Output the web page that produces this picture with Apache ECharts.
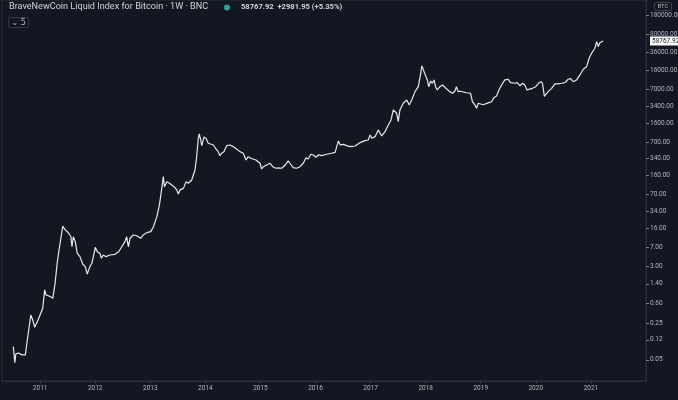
<!DOCTYPE html>
<html>
<head>
<meta charset="utf-8">
<script src="https://cdn.jsdelivr.net/npm/echarts@6/dist/echarts.min.js"></script>
<style>
  html, body { margin: 0; padding: 0; background: #131722; }
  #chart { width: 678px; height: 400px; }
</style>
</head>
<body>
<div id="chart"></div>
<script>
// weekly BLX close (USD, log scale)
const dates = [
  '2010-07-07', '2010-07-17', '2010-07-24', '2010-08-10', '2010-09-02', '2010-09-25', '2010-10-05', '2010-10-18',
  '2010-10-31', '2010-11-13', '2010-11-26', '2010-12-18', '2011-01-09', '2011-01-18', '2011-01-31', '2011-02-09',
  '2011-03-08', '2011-03-26', '2011-04-05', '2011-04-10', '2011-04-25', '2011-05-08', '2011-05-15', '2011-05-31',
  '2011-06-15', '2011-07-07', '2011-07-18', '2011-07-24', '2011-07-31', '2011-08-09', '2011-08-22', '2011-09-04',
  '2011-09-22', '2011-10-10', '2011-10-27', '2011-11-09', '2011-11-27', '2011-12-10', '2012-01-02', '2012-01-15',
  '2012-02-02', '2012-02-11', '2012-02-24', '2012-03-13', '2012-04-08', '2012-05-11', '2012-06-05', '2012-06-25',
  '2012-07-17', '2012-07-28', '2012-08-08', '2012-08-19', '2012-09-10', '2012-10-03', '2012-10-29', '2012-11-15',
  '2012-12-08', '2013-01-04', '2013-01-21', '2013-02-13', '2013-03-02', '2013-03-13', '2013-03-28', '2013-04-04',
  '2013-04-20', '2013-05-07', '2013-05-20', '2013-06-07', '2013-06-25', '2013-07-05', '2013-07-17', '2013-08-08',
  '2013-08-26', '2013-09-10', '2013-10-02', '2013-10-24', '2013-11-04', '2013-11-15', '2013-11-21', '2013-12-01',
  '2013-12-08', '2013-12-22', '2014-01-05', '2014-01-20', '2014-01-31', '2014-02-23', '2014-03-12', '2014-03-27',
  '2014-04-08', '2014-04-19', '2014-05-04', '2014-05-22', '2014-06-13', '2014-07-05', '2014-07-27', '2014-08-18',
  '2014-09-09', '2014-09-27', '2014-10-12', '2014-10-28', '2014-11-10', '2014-12-02', '2014-12-29', '2015-01-09',
  '2015-01-20', '2015-02-11', '2015-03-05', '2015-03-23', '2015-04-14', '2015-04-29', '2015-05-21', '2015-06-12',
  '2015-07-04', '2015-07-20', '2015-08-06', '2015-08-29', '2015-09-20', '2015-10-12', '2015-10-30', '2015-11-14',
  '2015-12-02', '2015-12-17', '2016-01-04', '2016-01-19', '2016-02-11', '2016-03-15', '2016-04-17', '2016-05-10',
  '2016-05-21', '2016-06-01', '2016-06-13', '2016-07-04', '2016-07-26', '2016-08-17', '2016-09-19', '2016-10-22',
  '2016-11-24', '2016-12-16', '2016-12-28', '2017-01-08', '2017-01-30', '2017-02-21', '2017-03-15', '2017-04-06',
  '2017-04-28', '2017-05-16', '2017-05-31', '2017-06-23', '2017-07-03', '2017-07-14', '2017-08-05', '2017-08-28',
  '2017-09-14', '2017-09-30', '2017-10-22', '2017-11-13', '2017-11-29', '2017-12-07', '2017-12-21', '2018-01-03',
  '2018-01-12', '2018-01-21', '2018-02-03', '2018-02-14', '2018-02-25', '2018-03-07', '2018-03-19', '2018-04-05',
  '2018-04-23', '2018-05-15', '2018-06-10', '2018-06-28', '2018-07-13', '2018-07-24', '2018-08-04', '2018-08-20',
  '2018-09-02', '2018-09-28', '2018-10-25', '2018-11-07', '2018-11-23', '2018-12-04', '2018-12-15', '2018-12-26',
  '2019-01-17', '2019-02-19', '2019-03-14', '2019-03-29', '2019-04-16', '2019-05-03', '2019-05-19', '2019-06-10',
  '2019-06-21', '2019-07-02', '2019-07-18', '2019-07-31', '2019-08-16', '2019-08-31', '2019-09-17', '2019-10-05',
  '2019-10-20', '2019-11-04', '2019-11-17', '2019-12-10', '2020-01-01', '2020-01-23', '2020-02-08', '2020-02-15',
  '2020-02-27', '2020-03-11', '2020-03-23', '2020-04-15', '2020-05-07', '2020-05-29', '2020-06-20', '2020-07-12',
  '2020-08-03', '2020-08-19', '2020-09-05', '2020-09-28', '2020-10-20', '2020-11-11', '2020-12-03', '2020-12-20',
  '2021-01-05', '2021-01-16', '2021-01-27', '2021-02-08', '2021-02-18', '2021-03-01', '2021-03-23'
];
const prices = [
  0.089, 0.044, 0.065, 0.067, 0.062, 0.062, 0.103, 0.11,
  0.356, 0.286, 0.208, 0.286, 0.41, 0.48, 1.07, 0.86,
  0.80, 0.74, 0.72, 1.43, 3.69, 6.65, 7.2, 17.5,
  15.1, 13.1, 12.6, 11.0, 7.1, 11.0, 8.9, 5.3,
  4.6, 3.34, 2.97, 2.15, 2.97, 3.44, 6.95, 5.73,
  5.3, 4.28, 4.95, 4.6, 4.95, 5.1, 5.7, 7.1,
  8.9, 11.0, 7.1, 10.3, 11.9, 11.5, 10.3, 11.9,
  13.2, 13.8, 17.1, 26.6, 44.5, 74, 154, 99,
  123, 115, 123, 99, 86, 72, 86, 92,
  123, 115, 133, 206, 369, 828, 1000, 767,
  600, 870, 828, 665, 713, 617, 518, 460,
  386, 429, 460, 598, 617, 573, 518, 460,
  429, 319, 370, 344, 370, 319, 277, 215,
  238, 257, 277, 238, 222, 225, 222, 250,
  306, 265, 228, 222, 238, 277, 353, 333,
  410, 398, 360, 398, 386, 410, 429, 446,
  573, 735, 617, 633, 598, 573, 590, 683,
  745, 767, 955, 828, 888, 1190, 917, 1105,
  1483, 1846, 2865, 2476, 1714, 2865, 3837, 4436,
  3565, 4436, 6400, 7950, 14300, 19800, 15400, 12300,
  10700, 7950, 10200, 9230, 10700, 7950, 6890, 7950,
  8570, 7400, 6400, 5960, 6500, 7950, 6400, 6500,
  6100, 6100, 5960, 4130, 3565, 3080, 3837, 3565,
  3600, 3900, 4100, 4900, 5300, 7000, 8570, 10700,
  9900, 11000, 9480, 10200, 9230, 9500, 8300, 9230,
  8570, 6890, 7000, 7400, 7950, 9480, 9900, 9000,
  5200, 5500, 6400, 7400, 9000, 9000, 9230, 9480,
  11000, 11300, 9900, 10700, 13300, 17100, 19100, 27700,
  34400, 32000, 42900, 57300, 46000, 54800, 58767.92
];

// price scale labels on the right
const priceTicks = [180000, 80000, 36000, 16000, 7000, 3400, 1600, 700, 340, 160, 70,
  34, 16, 7, 3, 1.4, 0.6, 0.25, 0.12, 0.05];
const yearTicks = ['2011-01-01', '2012-01-01', '2013-01-01', '2014-01-01', '2015-01-01', '2016-01-01',
  '2017-01-01', '2018-01-01', '2019-01-01', '2020-01-01', '2021-01-01'];

const lastPrice = prices[prices.length - 1];
const seriesData = dates.map((d, i) => [d, prices[i]]);

const chart = echarts.init(document.getElementById('chart'));
const font = 'Roboto, "DejaVu Sans", sans-serif';

chart.setOption({
  backgroundColor: '#131722',
  animation: false,
  graphic: [
    {
      type: 'text', left: 9, top: 2,
      style: { text: 'BraveNewCoin Liquid Index for Bitcoin · 1W · BNC', fill: '#d1d4dc', fontSize: 9.1, fontFamily: font }
    },
    {
      type: 'circle', left: 224, top: 4.5,
      shape: { r: 3 },
      style: { fill: '#26a69a' }
    },
    {
      type: 'text', left: 241, top: 3.5,
      style: { text: '58767.92  +2981.95 (+5.35%)', fill: '#d1d4dc', fontSize: 7.6, fontWeight: 'bold', fontFamily: font }
    },
    {
      type: 'text', left: 8, top: 17,
      style: {
        text: '⌄ 5', fill: '#b2b5be', fontSize: 8, fontFamily: 'DejaVu Sans',
        borderColor: '#363a45', borderWidth: 1, borderRadius: 2, padding: [1, 3, 1, 3]
      }
    },
    {
      type: 'text', right: 6, top: 2,
      style: {
        text: 'BTC', fill: '#b2b5be', fontSize: 6, fontFamily: font,
        borderColor: '#434651', borderWidth: 1, borderRadius: 2, padding: [1, 3, 1, 3]
      }
    }
  ],
  grid: {
    left: 2, right: 32, top: 0, bottom: 19,
    outerBoundsMode: 'none',
    show: true, borderColor: '#2a2e39', borderWidth: 1
  },
  xAxis: {
    type: 'time',
    min: '2010-04-23',
    max: '2022-01-01',
    axisLine: { show: true, lineStyle: { color: '#2a2e39' } },
    axisTick: { show: true, customValues: yearTicks, length: 2, lineStyle: { color: '#434651' } },
    axisLabel: {
      customValues: yearTicks,
      formatter: '{yyyy}',
      color: '#b2b5be',
      fontSize: 6.5,
      fontFamily: font,
      margin: 4
    },
    splitLine: { show: false }
  },
  yAxis: {
    type: 'log',
    position: 'right',
    min: 0.0197,
    max: 356000,
    axisLine: { show: true, lineStyle: { color: '#2a2e39' } },
    axisTick: { show: true, customValues: priceTicks, length: 3, lineStyle: { color: '#787b86' } },
    axisLabel: {
      customValues: priceTicks,
      formatter: v => Number(v).toFixed(2),
      color: '#b2b5be',
      fontSize: 6.5,
      fontFamily: font,
      margin: 4
    },
    splitLine: { show: false }
  },
  series: [{
    type: 'line',
    data: seriesData,
    showSymbol: false,
    symbol: 'none',
    lineStyle: { color: '#e8e8e8', width: 1.2 },
    markLine: {
      silent: true,
      symbol: 'none',
      lineStyle: { color: 'rgba(0,0,0,0)', width: 0 },
      data: [{ yAxis: lastPrice }],
      label: {
        show: true,
        position: 'end',
        distance: 4,
        formatter: () => lastPrice.toFixed(2),
        color: '#131722',
        backgroundColor: '#ffffff',
        fontSize: 6.5,
        fontFamily: font,
        padding: [1, 3, 1, 2]
      }
    }
  }]
});
</script>
</body>
</html>
